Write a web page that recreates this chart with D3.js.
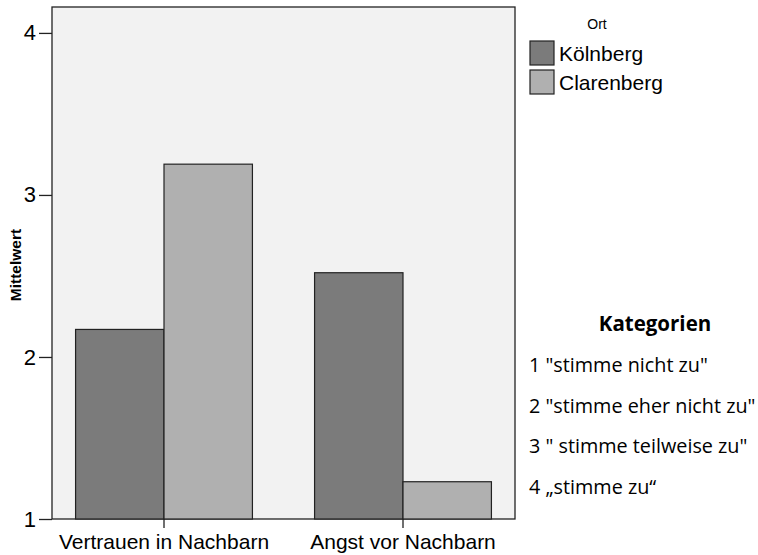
<!DOCTYPE html>
<html>
<head>
<meta charset="utf-8">
<script src="https://cdn.jsdelivr.net/npm/d3@7"></script>
<style>
  body { margin: 0; background: #fff; }
  text { font-family: "Liberation Sans", Arial, sans-serif; fill: #000; }
  .kat { font-family: "Open Sans", sans-serif; }
</style>
</head>
<body>
<div id="chart"></div>
<script>
const categories = ["Vertrauen in Nachbarn", "Angst vor Nachbarn"];
const seriesNames = ["Kölnberg", "Clarenberg"];
const koelnberg = [2.17, 2.52];
const clarenberg = [3.19, 1.23];
const yTicks = [1, 2, 3, 4];
const kategorien = ["1 \"stimme nicht zu\"", "2 \"stimme eher nicht zu\"", "3 \" stimme teilweise zu\"", "4 \u201estimme zu\u201c"];

const colors = ["#7b7b7b", "#b0b0b0"];
const width = 758, height = 555;
const plot = { left: 52, right: 515, top: 7, bottom: 519 };

const svg = d3.select("#chart").append("svg")
    .attr("width", width)
    .attr("height", height);

const y = d3.scaleLinear()
    .domain([1, 4.16])
    .range([plot.bottom, plot.top]);

const x = d3.scaleBand()
    .domain(categories)
    .range([44.5, 522.5])
    .paddingInner(0.26)
    .paddingOuter(0.13);

const xs = d3.scaleBand()
    .domain(seriesNames)
    .range([0, x.bandwidth()]);

// plot background
svg.append("rect")
    .attr("x", plot.left)
    .attr("y", plot.top)
    .attr("width", plot.right - plot.left)
    .attr("height", plot.bottom - plot.top)
    .attr("fill", "#f2f2f2")
    .attr("stroke", "#222")
    .attr("stroke-width", 1.3);

const data = [];
categories.forEach((c, i) => {
    data.push({ cat: c, series: seriesNames[0], value: koelnberg[i] });
    data.push({ cat: c, series: seriesNames[1], value: clarenberg[i] });
});

svg.selectAll(".bar")
    .data(data)
    .enter()
    .append("rect")
    .attr("class", "bar")
    .attr("x", d => x(d.cat) + xs(d.series))
    .attr("y", d => y(d.value))
    .attr("width", xs.bandwidth())
    .attr("height", d => y(1) - y(d.value))
    .attr("fill", d => colors[seriesNames.indexOf(d.series)])
    .attr("stroke", "#222")
    .attr("stroke-width", 1.2);

// y axis
const yAxis = d3.axisLeft(y)
    .tickValues(yTicks)
    .tickFormat(d3.format("d"))
    .tickSize(13)
    .tickPadding(3);

svg.append("g")
    .attr("transform", `translate(${plot.left},0)`)
    .call(yAxis)
    .call(g => g.select(".domain").remove())
    .call(g => g.selectAll("line").attr("stroke", "#222").attr("stroke-width", 1.3))
    .call(g => g.selectAll("text").attr("font-size", 22).attr("font-family", "Liberation Sans, Arial, sans-serif"));

// x axis
const xAxis = d3.axisBottom(x)
    .tickSize(9)
    .tickPadding(6);

svg.append("g")
    .attr("transform", `translate(0,${plot.bottom})`)
    .call(xAxis)
    .call(g => g.select(".domain").remove())
    .call(g => g.selectAll("line").attr("stroke", "#222").attr("stroke-width", 1.3))
    .call(g => g.selectAll("text").attr("font-size", 21).attr("font-family", "Liberation Sans, Arial, sans-serif"));

// y label
svg.append("text")
    .attr("transform", "translate(21,265) rotate(-90)")
    .attr("text-anchor", "middle")
    .attr("font-size", 15.5)
    .attr("font-weight", "bold")
    .text("Mittelwert");

// legend
svg.append("text")
    .attr("x", 597)
    .attr("y", 29)
    .attr("text-anchor", "middle")
    .attr("font-size", 14)
    .text("Ort");

const legend = svg.selectAll(".legend")
    .data(seriesNames)
    .enter()
    .append("g")
    .attr("class", "legend")
    .attr("transform", (d, i) => `translate(530,${41 + i * 29})`);

legend.append("rect")
    .attr("width", 24)
    .attr("height", 24)
    .attr("fill", (d, i) => colors[i])
    .attr("stroke", "#222")
    .attr("stroke-width", 1.2);

legend.append("text")
    .attr("x", 29)
    .attr("y", 20)
    .attr("font-size", 21)
    .text(d => d);

// Kategorien box
svg.append("text")
    .attr("class", "kat")
    .attr("x", 655)
    .attr("y", 331)
    .attr("text-anchor", "middle")
    .attr("font-size", 20.5)
    .attr("font-weight", "bold")
    .text("Kategorien");

svg.selectAll(".katline")
    .data(kategorien)
    .enter()
    .append("text")
    .attr("class", "kat katline")
    .attr("x", 529)
    .attr("y", (d, i) => 372 + i * 40.7)
    .attr("font-size", 19.8)
    .text(d => d);
</script>
</body>
</html>
